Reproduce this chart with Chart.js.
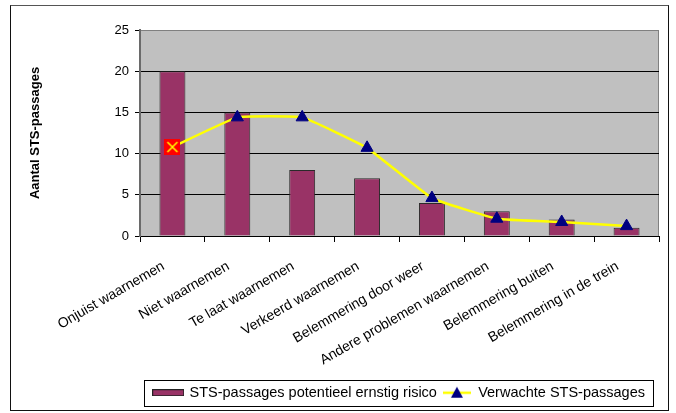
<!DOCTYPE html>
<html>
<head>
<meta charset="utf-8">
<script src="https://cdn.jsdelivr.net/npm/chart.js@4/dist/chart.umd.min.js"></script>
<style>
  html, body { margin: 0; padding: 0; background: #fff; }
  #wrap { position: relative; width: 676px; height: 413px; }
  #frame {
    position: absolute; left: 10px; top: 5px; width: 657px; height: 404px;
    border: 1px solid #111; border-top-color: #555; pointer-events: none;
  }
</style>
</head>
<body>
<div id="wrap">
  <canvas id="c" width="676" height="413"></canvas>
  <div id="frame"></div>
</div>
<script>
// ── Data ─────────────────────────────────────────────────────────────
const CATEGORIES = [
  "Onjuist waarnemen",
  "Niet waarnemen",
  "Te laat waarnemen",
  "Verkeerd waarnemen",
  "Belemmering door weer",
  "Andere problemen waarnemen",
  "Belemmering buiten",
  "Belemmering in de trein",
];
const RISK_COUNTS = [20, 15, 8, 7, 4, 3, 2, 1];
const EXPECTED    = [10.8, 14.4, 14.4, 10.7, 4.6, 2.1, 1.7, 1.2];
const Y_MAX  = 25;
const Y_STEP = 5;
const BAR_LABEL  = "STS-passages potentieel ernstig risico";
const LINE_LABEL = "Verwachte STS-passages";
const Y_TITLE    = "Aantal STS-passages";

const FONT = "'Liberation Sans', Arial, sans-serif";
const BAR_COLOR = "#993366";
const LINE_COLOR = "#FFFF00";
const MARK_COLOR = "#000080";

// ── Petits canvas pour les marqueurs / légende ──────────────────────
function makeCanvas(w, h, draw) {
  const cv = document.createElement("canvas");
  cv.width = w; cv.height = h;
  draw(cv.getContext("2d"), w, h);
  return cv;
}

// premier point : carré rouge avec croix jaune
const firstMarker = makeCanvas(16, 16, (g, w, h) => {
  g.fillStyle = "#FF0000";
  g.fillRect(0, 0, w, h);
  g.strokeStyle = "#FFFF00";
  g.lineWidth = 1.5;
  g.beginPath();
  g.moveTo(3, 3); g.lineTo(w - 3, h - 3);
  g.moveTo(w - 3, 3); g.lineTo(3, h - 3);
  g.stroke();
});

const barSwatch = makeCanvas(32, 7, (g, w, h) => {
  g.fillStyle = BAR_COLOR;
  g.fillRect(0, 0, w, h);
  g.strokeStyle = "#222";
  g.lineWidth = 1;
  g.strokeRect(0.5, 0.5, w - 1, h - 1);
});

const lineSwatch = makeCanvas(28, 14, (g, w, h) => {
  g.strokeStyle = LINE_COLOR;
  g.lineWidth = 2.5;
  g.beginPath();
  g.moveTo(0, h / 2); g.lineTo(w, h / 2);
  g.stroke();
  g.fillStyle = MARK_COLOR;
  g.beginPath();
  g.moveTo(w / 2, 1); g.lineTo(w / 2 + 6, h - 2); g.lineTo(w / 2 - 6, h - 2);
  g.closePath();
  g.fill();
});

// ── Plugins ──────────────────────────────────────────────────────────
const plotArea = {
  id: "plotArea",
  beforeDraw(chart) {
    const { ctx, chartArea: a } = chart;
    ctx.save();
    ctx.fillStyle = "#C0C0C0";
    ctx.fillRect(a.left, a.top, a.width, a.height);
    ctx.strokeStyle = "#808080";
    ctx.lineWidth = 1;
    ctx.beginPath();
    ctx.moveTo(a.left, a.top + 0.5);
    ctx.lineTo(a.right - 0.5, a.top + 0.5);
    ctx.lineTo(a.right - 0.5, a.bottom);
    ctx.stroke();
    ctx.restore();
  },
};

// la légende d'Excel finit un peu avant le bord droit du graphique
const LEGEND_SHIFT = 8;

const legendBox = {
  id: "legendBox",
  afterUpdate(chart) {
    const lg = chart.legend;
    if (!lg) return;
    lg.right -= LEGEND_SHIFT;
    lg.legendHitBoxes.forEach((b) => { b.left -= LEGEND_SHIFT; });
  },
  afterDraw(chart) {
    const hb = chart.legend && chart.legend.legendHitBoxes;
    if (!hb || !hb.length) return;
    const left = Math.min(...hb.map((b) => b.left)) - 10;
    const right = Math.max(...hb.map((b) => b.left + b.width)) + 8;
    const top = hb[0].top - 6;
    const bottom = hb[0].top + hb[0].height + 5;
    const { ctx } = chart;
    ctx.save();
    ctx.strokeStyle = "#000";
    ctx.lineWidth = 1;
    ctx.strokeRect(Math.round(left) + 0.5, Math.round(top) + 0.5,
                   Math.round(right - left), Math.round(bottom - top));
    ctx.restore();
  },
};

// ── Chart ────────────────────────────────────────────────────────────
const PAD_BOTTOM = 3;
const AREA_BOTTOM = 236;

new Chart(document.getElementById("c"), {
  type: "bar",
  data: {
    labels: CATEGORIES,
    datasets: [
      {
        type: "bar",
        label: BAR_LABEL,
        data: RISK_COUNTS,
        backgroundColor: BAR_COLOR,
        borderColor: "#2a2a2a",
        borderWidth: 1,
        categoryPercentage: 1,
        barPercentage: 0.4,
        order: 1,
      },
      {
        type: "line",
        label: LINE_LABEL,
        data: EXPECTED,
        borderColor: LINE_COLOR,
        borderWidth: 2.5,
        tension: 0.1,
        pointStyle: EXPECTED.map((_, i) => (i === 0 ? firstMarker : "triangle")),
        pointRadius: 7,
        pointBackgroundColor: MARK_COLOR,
        pointBorderColor: MARK_COLOR,
        pointBorderWidth: 1,
        order: 0,
      },
    ],
  },
  options: {
    responsive: false,
    animation: false,
    events: [],
    layout: { padding: { left: 0, top: 30, right: 17, bottom: PAD_BOTTOM } },
    plugins: {
      tooltip: { enabled: false },
      legend: {
        position: "bottom",
        align: "end",
        labels: {
          usePointStyle: true,
          pointStyleWidth: 28,
          padding: 6,
          color: "#000",
          font: { family: FONT, size: 14.5 },
          generateLabels: () => [
            { text: BAR_LABEL, pointStyle: barSwatch, fillStyle: BAR_COLOR,
              strokeStyle: "#222", lineWidth: 1, hidden: false, datasetIndex: 0 },
            { text: LINE_LABEL, pointStyle: lineSwatch, fillStyle: LINE_COLOR,
              strokeStyle: LINE_COLOR, lineWidth: 0, hidden: false, datasetIndex: 1 },
          ],
        },
      },
    },
    scales: {
      x: {
        offset: true,
        grid: {
          offset: true,
          drawOnChartArea: false,
          drawTicks: true,
          tickLength: 6,
          tickColor: "#000",
        },
        border: { display: true, color: "#000", width: 1 },
        ticks: {
          color: "#000",
          font: { family: FONT, size: 14 },
          minRotation: 30,
          maxRotation: 30,
          autoSkip: false,
          padding: 16,
          labelOffset: -9,
        },
        afterFit(scale) {
          const lg = scale.chart.legend ? scale.chart.legend.height : 30;
          scale.height = 413 - AREA_BOTTOM - PAD_BOTTOM - lg;
        },
      },
      y: {
        min: 0,
        max: Y_MAX,
        grid: {
          color: (c) => (c.tick && c.tick.value === Y_MAX ? "#808080" : "#000"),
          tickColor: "#000",
          tickLength: 5,
          lineWidth: 1,
        },
        border: { display: true, color: "#6a6a6a", width: 2 },
        ticks: {
          stepSize: Y_STEP,
          color: "#000",
          padding: 6,
          font: { family: FONT, size: 13 },
        },
        title: {
          display: true,
          text: Y_TITLE,
          color: "#000",
          font: { family: FONT, size: 13, weight: "bold" },
          padding: { top: 28, bottom: 0 },
        },
        afterFit(scale) { scale.width = 140; },
      },
    },
  },
  plugins: [plotArea, legendBox],
});
</script>
</body>
</html>
